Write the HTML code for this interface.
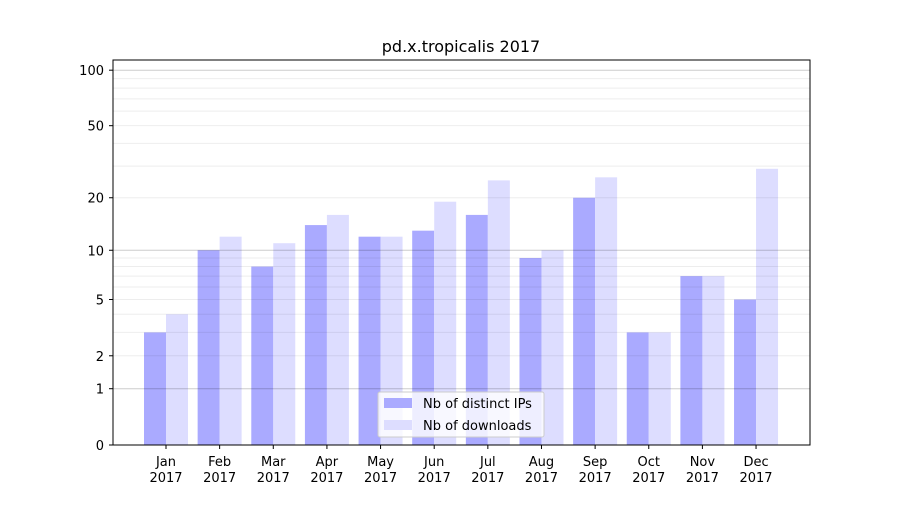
<!DOCTYPE html>
<html><head><meta charset="utf-8"><style>
body{margin:0;background:#fff;}
svg text{font-family:"DejaVu Sans","Liberation Sans",sans-serif;}
</style></head><body>
<svg id="chart" width="900" height="500" xmlns="http://www.w3.org/2000/svg">
<rect width="900" height="500" fill="#fff"/>
<text x="461" y="52" font-size="16" text-anchor="middle">pd.x.tropicalis 2017</text>
<g id="bars"></g>
<g id="grid"></g>
<rect x="113" y="60" width="697" height="385" fill="none" stroke="#000" stroke-width="1"/>
<g id="axes"></g>
<g>
<rect x="378" y="392" width="166" height="45" fill="#fff" fill-opacity="0.8" stroke="#ccc" rx="2"/>
<rect x="384" y="398" width="28" height="10" fill="#aaaaff"/>
<text x="423" y="408" font-size="13">Nb of distinct IPs</text>
<rect x="384" y="420" width="28" height="10" fill="#ddddff"/>
<text x="423" y="430" font-size="13">Nb of downloads</text>
</g>
</svg>
<script>
const months=["Jan","Feb","Mar","Apr","May","Jun","Jul","Aug","Sep","Oct","Nov","Dec"];
const ips=[3,10,8,14,12,13,16,9,20,3,7,5];
const downloads=[4,12,11,16,12,19,25,10,26,3,7,29];
const yTicks=[0,1,2,5,10,20,50,100];
const NS="http://www.w3.org/2000/svg";
function y(v){return 445-187*Math.log10(1+v);}
function xc(i){return 166+i*53.64;}
function mk(tag,attrs,parent){const e=document.createElementNS(NS,tag);for(const k in attrs)e.setAttribute(k,attrs[k]);parent.appendChild(e);return e;}
const grid=document.getElementById('grid'),bars=document.getElementById('bars'),axes=document.getElementById('axes');
for(let d=1;d<=100;d*=10){for(let m=1;m<10;m++){const v=m*d;if(v>100)break;const yy=y(v);
const major=(m===1);
const l=mk('line',{x1:113,x2:810,y1:yy,y2:yy,stroke:'#000','stroke-opacity':major?0.2:0.07,'stroke-width':1},grid);

}}
months.forEach((m,i)=>{
const c=xc(i);
const b1=mk('rect',{x:c-22,y:y(ips[i]),width:22,height:445-y(ips[i]),fill:'#aaaaff'},bars);


const b2=mk('rect',{x:c,y:y(downloads[i]),width:22,height:445-y(downloads[i]),fill:'#ddddff'},bars);


mk('line',{x1:c,x2:c,y1:445,y2:449,stroke:'#000'},axes);
const t=mk('text',{x:c,y:466,'font-size':13,'text-anchor':'middle'},axes);
t.textContent=m;


const t2=mk('text',{x:c,y:482,'font-size':13,'text-anchor':'middle'},axes);
t2.textContent='2017';


});
yTicks.forEach(v=>{const yy=y(v);
mk('line',{x1:109,x2:113,y1:yy,y2:yy,stroke:'#000'},axes);
const t=mk('text',{x:104,y:yy+5,'font-size':13,'text-anchor':'end'},axes);
t.textContent=v;

});
</script>
</body></html>
